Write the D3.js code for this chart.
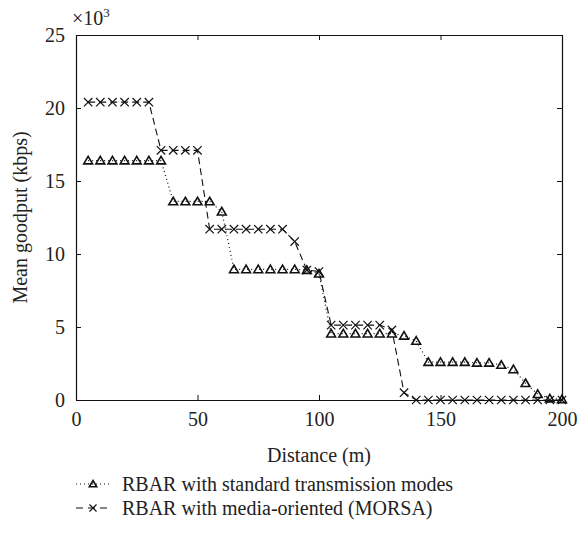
<!DOCTYPE html>
<html>
<head>
<meta charset="utf-8">
<script src="https://cdn.jsdelivr.net/npm/d3@7"></script>
<style>
  body { margin: 0; background: #fff; }
  svg text { font-family: "Liberation Serif", "DejaVu Serif", "Times New Roman", Times, serif; fill: #222; }
</style>
</head>
<body>
<svg id="chart" width="578" height="536"></svg>
<script>
// Distance from the access point (m)
const distance = [5, 10, 15, 20, 25, 30, 35, 40, 45, 50,
                  55, 60, 65, 70, 75, 80, 85, 90, 95, 100,
                  105, 110, 115, 120, 125, 130, 135, 140, 145, 150,
                  155, 160, 165, 170, 175, 180, 185, 190, 195, 200];

// Mean goodput (x10^3 kbps), RBAR with standard transmission modes
const standardModes = [16.4, 16.4, 16.4, 16.4, 16.4, 16.4, 16.4, 13.6, 13.6, 13.6,
                       13.6, 12.9, 8.95, 8.95, 8.95, 8.95, 8.95, 8.95, 8.9, 8.65,
                       4.55, 4.55, 4.55, 4.55, 4.55, 4.55, 4.4, 4.05, 2.6, 2.6,
                       2.6, 2.6, 2.55, 2.55, 2.4, 2.1, 1.15, 0.4, 0.1, 0.05];

// Mean goodput (x10^3 kbps), RBAR with media-oriented modes (MORSA)
const morsaModes = [20.4, 20.4, 20.4, 20.4, 20.4, 20.4, 17.1, 17.1, 17.1, 17.1,
                    11.7, 11.7, 11.7, 11.7, 11.7, 11.7, 11.7, 10.85, 8.9, 8.8,
                    5.13, 5.13, 5.13, 5.13, 5.13, 4.8, 0.5, 0, 0, 0,
                    0, 0, 0, 0, 0, 0, 0, 0, 0, 0];

const xTicks = [0, 50, 100, 150, 200];
const yTicks = [0, 5, 10, 15, 20, 25];
const legendLabels = ["RBAR with standard transmission modes",
                      "RBAR with media-oriented (MORSA)"];

const serif = "Liberation Serif, DejaVu Serif, Times New Roman, serif";
const svg = d3.select("#chart");
const plotL = 76, plotR = 562, plotT = 35, plotB = 400;

const x = d3.scaleLinear().domain([0, 200]).range([plotL, plotR]);
const y = d3.scaleLinear().domain([0, 25]).range([plotB, plotT]);

const ink = "#111";
const tickLen = 5;

// Axes on all four sides, ticks pointing inward
function styleAxis(g) {
  g.attr("font-family", serif);
  g.selectAll("path.domain").attr("stroke", ink).attr("stroke-width", 1.2);
  g.selectAll(".tick line").attr("stroke", ink).attr("stroke-width", 1);
  g.selectAll(".tick text").attr("font-size", 20).attr("fill", "#222");
}

svg.append("g").attr("transform", `translate(0,${plotB})`)
  .call(d3.axisBottom(x).tickValues(xTicks).tickSizeInner(-tickLen).tickSizeOuter(0).tickPadding(12))
  .call(styleAxis);

svg.append("g").attr("transform", `translate(0,${plotT})`)
  .call(d3.axisTop(x).tickValues(xTicks).tickSizeInner(-tickLen).tickSizeOuter(0).tickFormat(""))
  .call(styleAxis);

svg.append("g").attr("transform", `translate(${plotL},0)`)
  .call(d3.axisLeft(y).tickValues(yTicks).tickSizeInner(-tickLen).tickSizeOuter(0).tickPadding(11))
  .call(styleAxis);

svg.append("g").attr("transform", `translate(${plotR},0)`)
  .call(d3.axisRight(y).tickValues(yTicks).tickSizeInner(-tickLen).tickSizeOuter(0).tickFormat(""))
  .call(styleAxis);

// Exponent note above the y axis
const expo = svg.append("text").attr("x", plotL - 4).attr("y", 25)
  .attr("font-family", serif).attr("font-size", 20);
expo.append("tspan").text("\u00d710");
expo.append("tspan").attr("dy", -8).attr("font-size", 13).text("3");

// Axis titles
svg.append("text").attr("x", (plotL + plotR) / 2).attr("y", 462)
  .attr("font-family", serif).attr("text-anchor", "middle").attr("font-size", 20).text("Distance (m)");
svg.append("text")
  .attr("transform", `translate(27,${(plotT + plotB) / 2}) rotate(-90)`)
  .attr("font-family", serif).attr("text-anchor", "middle").attr("font-size", 20).text("Mean goodput (kbps)");

// Series lines
const stdPts = distance.map((d, i) => [d, standardModes[i]]);
const morsaPts = distance.map((d, i) => [d, morsaModes[i]]);
const line = d3.line().x(d => x(d[0])).y(d => y(d[1]));

const plot = svg.append("g");
plot.append("path").datum(stdPts).attr("d", line)
  .attr("fill", "none").attr("stroke", ink).attr("stroke-width", 1.2)
  .attr("stroke-dasharray", "1,3");
plot.append("path").datum(morsaPts).attr("d", line)
  .attr("fill", "none").attr("stroke", ink).attr("stroke-width", 1.1)
  .attr("stroke-dasharray", "7,4");

// Markers
const triPath = s => `M0,${-s}L${s * 1.05},${s * 0.8}L${-s * 1.05},${s * 0.8}Z`;
const crossPath = s => `M${-s},${-s}L${s},${s}M${-s},${s}L${s},${-s}`;

function drawTri(g, cx, cy, s = 4.2) {
  g.append("path").attr("d", triPath(s)).attr("transform", `translate(${cx},${cy})`)
    .attr("fill", "none").attr("stroke", ink).attr("stroke-width", 1.6).attr("stroke-linejoin", "miter");
}
function drawCross(g, cx, cy, s = 4.2) {
  g.append("path").attr("d", crossPath(s)).attr("transform", `translate(${cx},${cy})`)
    .attr("fill", "none").attr("stroke", ink).attr("stroke-width", 1.2);
}

stdPts.forEach(p => drawTri(plot, x(p[0]), y(p[1])));
morsaPts.forEach(p => drawCross(plot, x(p[0]), y(p[1])));

// Legend
const lg = svg.append("g");
const lx0 = 76, lx1 = 110, ltext = 122;
const rows = [484, 508];
lg.append("line").attr("x1", lx0).attr("x2", lx1).attr("y1", rows[0]).attr("y2", rows[0])
  .attr("stroke", ink).attr("stroke-width", 1.2).attr("stroke-dasharray", "1,3");
drawTri(lg, (lx0 + lx1) / 2, rows[0], 3.5);
lg.append("line").attr("x1", lx0).attr("x2", lx1).attr("y1", rows[1]).attr("y2", rows[1])
  .attr("stroke", ink).attr("stroke-width", 1.1).attr("stroke-dasharray", "7,5");
drawCross(lg, (lx0 + lx1) / 2, rows[1], 3.5);
lg.selectAll("text.lbl").data(legendLabels).join("text")
  .attr("class", "lbl").attr("x", ltext).attr("y", (d, i) => rows[i])
  .attr("dy", "0.35em").attr("font-family", serif).attr("font-size", 20).text(d => d);
</script>
</body>
</html>
